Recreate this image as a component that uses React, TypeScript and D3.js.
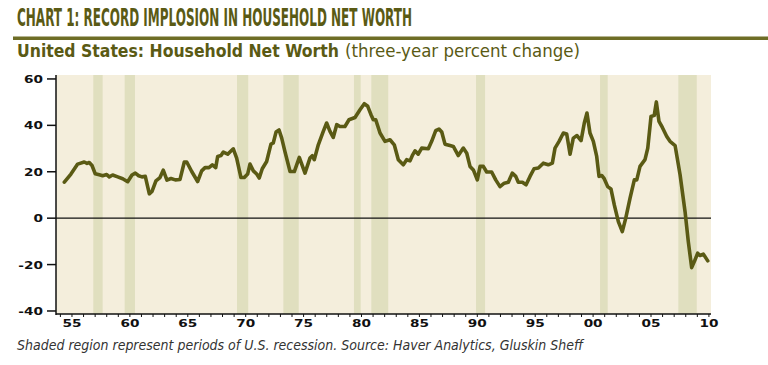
import React from 'react';
import * as d3 from 'd3';

// Three-year percent change (decimal year, percent)
const years = [
  1954.34, 1954.91, 1955.49, 1956.06, 1956.3, 1956.49, 1956.73, 1957.01, 1957.36, 1957.65,
  1958.0, 1958.22, 1958.51, 1958.95, 1959.38, 1959.81, 1960.18, 1960.47, 1960.76, 1961.04,
  1961.33, 1961.68, 1961.91, 1962.25, 1962.6, 1962.88, 1963.2, 1963.55, 1963.92, 1964.33,
  1964.7, 1964.91, 1965.34, 1965.85, 1966.2, 1966.49, 1966.83, 1967.12, 1967.41, 1967.58,
  1967.87, 1968.07, 1968.45, 1968.64, 1968.93, 1969.22, 1969.59, 1969.88, 1970.17, 1970.37,
  1970.66, 1970.95, 1971.17, 1971.43, 1971.81, 1972.18, 1972.38, 1972.62, 1972.88, 1973.11,
  1973.39, 1973.83, 1974.2, 1974.63, 1975.12, 1975.55, 1975.75, 1975.92, 1976.27, 1976.7,
  1976.99, 1977.28, 1977.56, 1977.86, 1978.14, 1978.57, 1978.92, 1979.44, 1979.87, 1980.24,
  1980.54, 1980.82, 1981.02, 1981.23, 1981.6, 1982.03, 1982.46, 1982.83, 1983.18, 1983.61,
  1983.9, 1984.19, 1984.42, 1984.62, 1984.9, 1985.2, 1985.77, 1986.06, 1986.41, 1986.69,
  1986.93, 1987.21, 1987.64, 1987.93, 1988.36, 1988.79, 1989.09, 1989.37, 1989.66, 1990.0,
  1990.24, 1990.52, 1990.81, 1991.24, 1991.59, 1991.96, 1992.33, 1992.68, 1993.02, 1993.32,
  1993.54, 1993.89, 1994.21, 1994.55, 1994.9, 1995.27, 1995.7, 1996.13, 1996.48, 1996.71,
  1997.06, 1997.43, 1997.72, 1998.01, 1998.29, 1998.61, 1998.96, 1999.24, 1999.47, 1999.73,
  2000.02, 2000.31, 2000.51, 2000.74, 2000.96, 2001.26, 2001.54, 2001.83, 2002.18, 2002.52,
  2002.82, 2003.19, 2003.56, 2003.77, 2004.05, 2004.48, 2004.72, 2005.0, 2005.28, 2005.46,
  2005.69, 2005.98, 2006.36, 2006.64, 2007.08, 2007.51, 2007.94, 2008.22, 2008.51, 2008.74,
  2009.03, 2009.23, 2009.52, 2009.9,
];
const netWorthChange = [
  15.5, 19.0, 23.3, 24.2, 23.6, 24.0, 22.7, 19.1, 18.7, 18.3,
  18.8, 17.8, 18.6, 17.8, 17.0, 15.7, 18.6, 19.4, 18.3, 17.8,
  18.0, 10.5, 11.5, 16.1, 17.5, 20.7, 16.4, 17.1, 16.5, 16.7,
  24.2, 24.2, 20.1, 15.8, 20.4, 21.8, 21.8, 23.0, 21.8, 26.6,
  27.0, 28.5, 27.6, 28.5, 29.9, 25.9, 17.5, 17.5, 19.0, 23.3,
  20.4, 19.0, 17.3, 21.3, 24.4, 31.9, 32.4, 37.1, 38.0, 34.5,
  28.7, 20.1, 20.1, 26.2, 19.4, 25.9, 26.9, 25.2, 31.6, 37.4,
  41.0, 37.4, 34.8, 40.3, 39.5, 39.5, 42.4, 43.4, 46.7, 49.3,
  48.2, 44.6, 42.4, 42.4, 36.7, 33.1, 33.8, 31.6, 25.2, 23.0,
  25.2, 24.7, 27.3, 29.0, 27.6, 30.2, 29.9, 33.1, 37.7, 38.4,
  37.1, 31.9, 31.3, 30.9, 27.0, 30.2, 28.0, 22.3, 20.8, 16.5,
  22.3, 22.3, 19.9, 19.9, 16.5, 13.6, 15.1, 15.5, 19.4, 18.0,
  15.5, 15.5, 14.4, 18.0, 21.3, 21.6, 23.7, 23.0, 23.7, 30.2,
  33.1, 36.7, 36.3, 27.6, 34.5, 35.6, 33.4, 41.0, 45.3, 36.7,
  33.1, 26.6, 18.0, 18.4, 17.0, 13.6, 12.6, 5.7, -1.5, -5.8,
  0.0, 8.6, 16.5, 16.5, 22.3, 25.2, 30.2, 43.8, 44.3, 50.1,
  41.7, 39.1, 35.2, 33.1, 31.3, 18.7, 2.8, -10.1, -21.3, -18.7,
  -15.1, -16.1, -15.5, -18.4,
];

// Recession bands as drawn on the chart
const recessionStart = [1956.84, 1959.55, 1969.25, 1973.25, 1979.35, 1980.85, 1989.89, 2000.6, 2007.36];
const recessionEnd = [1957.65, 1960.44, 1970.22, 1974.58, 1979.93, 1982.31, 1990.67, 2001.26, 2008.95];

const yTicks = [-40, -20, 0, 20, 40, 60];
const xLabelYears = [1955, 1960, 1965, 1970, 1975, 1980, 1985, 1990, 1995, 2000, 2005, 2010];

const olive = '#5a5a14';
const narrow = "'Liberation Sans Narrow', 'DejaVu Sans Condensed', 'Liberation Sans', sans-serif";

export default function App() {
  const width = 768;
  const height = 365;
  const left = 56, right = 711, top = 75, bottom = 314;

  const x = d3.scaleLinear().domain([1953.62, 2010.18]).range([left, right]);
  const y = d3.scaleLinear().domain([-41.3, 61.7]).range([bottom, top]);

  const points = years.map((yr, i) => [yr, netWorthChange[i]] as [number, number]);
  const line = d3.line<[number, number]>()
    .x(d => x(d[0]))
    .y(d => y(d[1]))
    .curve(d3.curveLinear);

  const minorYears = d3.range(1954, 2011);

  return (
    <svg width={width} height={height} style={{ position: 'absolute', left: 0, top: 0, background: '#fff' }}>
      {/* header */}
      <text x={17} y={26} fill={olive} fontFamily={narrow}
        fontWeight="bold" fontSize={24} textLength={395} lengthAdjust="spacingAndGlyphs">
        CHART 1: RECORD IMPLOSION IN HOUSEHOLD NET WORTH
      </text>
      <rect x={13} y={36.5} width={755} height={3.5} fill="#6e6d26" />
      <text x={17} y={57} fill={olive} fontFamily={narrow}
        fontWeight="bold" fontSize={17} textLength={322} lengthAdjust="spacingAndGlyphs">
        United States: Household Net Worth
      </text>
      <text x={345} y={57} fill={olive} fontFamily={narrow}
        fontSize={17} textLength={235} lengthAdjust="spacingAndGlyphs">
        (three-year percent change)
      </text>

      {/* plot background and recessions */}
      <rect x={left} y={top} width={right - left} height={bottom - top} fill="#f4eedc" />
      {recessionStart.map((s, i) => (
        <rect key={i} x={x(s)} y={top} width={x(recessionEnd[i]) - x(s)} height={bottom - top} fill="#e0dfbf" />
      ))}

      {/* zero line */}
      <line x1={left} x2={right} y1={y(0)} y2={y(0)} stroke="#111" strokeWidth={1.2} />

      {/* series */}
      <path d={line(points) ?? ''} fill="none" stroke={olive} strokeWidth={3.6} strokeLinejoin="round" strokeLinecap="round" />

      {/* y axis */}
      <line x1={left} x2={left} y1={top} y2={bottom + 1} stroke="#111" strokeWidth={1.5} />
      {yTicks.map(t => (
        <g key={t}>
          <line x1={left - 9} x2={left} y1={y(t)} y2={y(t)} stroke="#111" strokeWidth={1.5} />
          <g transform={`translate(${left - 13},${y(t) + 4}) scale(1.3,1)`}>
            <text textAnchor="end" fontFamily="'DejaVu Sans', Verdana, sans-serif" fontWeight="bold" fontSize={10.5} fill="#111">
              {t}
            </text>
          </g>
        </g>
      ))}

      {/* x axis */}
      <line x1={left} x2={right} y1={bottom} y2={bottom} stroke="#111" strokeWidth={1.5} />
      {minorYears.map(yr => (
        <line key={yr} x1={x(yr)} x2={x(yr)} y1={bottom} y2={bottom + 3} stroke="#111" strokeWidth={1} />
      ))}
      {xLabelYears.map(yr => (
        <g key={yr} transform={`translate(${x(yr)},${bottom + 13}) scale(1.3,1)`}>
          <text textAnchor="middle" fontFamily="'DejaVu Sans', Verdana, sans-serif" fontWeight="bold" fontSize={10.5} fill="#111">
            {String(yr % 100).padStart(2, '0')}
          </text>
        </g>
      ))}

      {/* footnote */}
      <text x={17} y={350} fill="#333" fontFamily={narrow}
        fontStyle="italic" fontSize={14} textLength={566} lengthAdjust="spacingAndGlyphs">
        Shaded region represent periods of U.S. recession.  Source: Haver Analytics, Gluskin Sheff
      </text>
    </svg>
  );
}
